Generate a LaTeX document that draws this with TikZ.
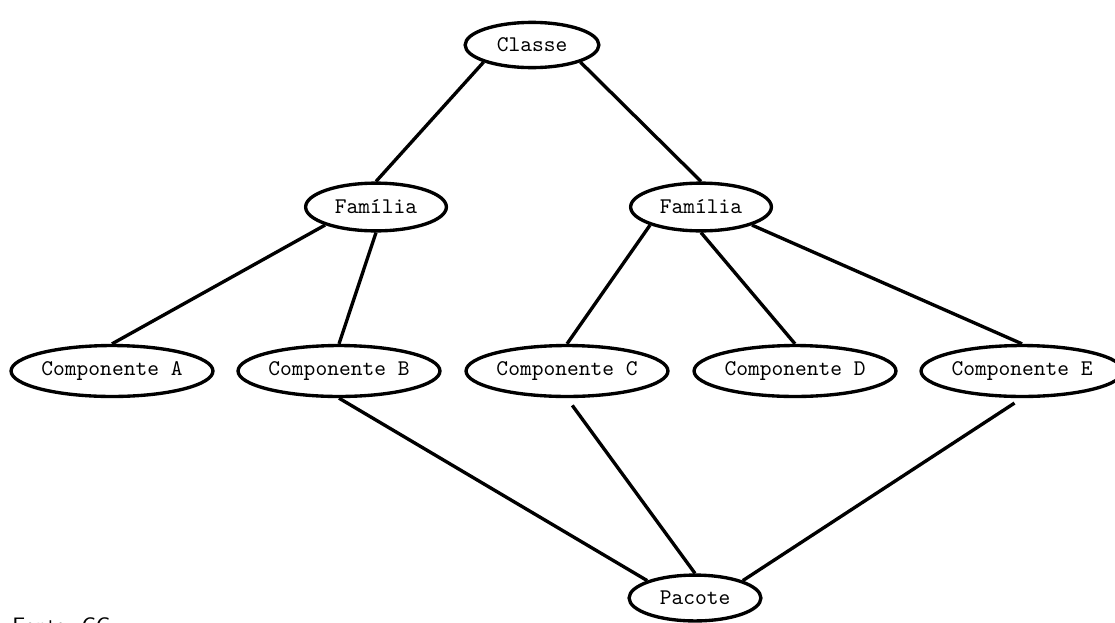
\documentclass[tikz,border=0pt]{standalone}
\usepackage{tikz}
\usetikzlibrary{shapes.geometric}

\begin{document}
\begin{tikzpicture}[x=0.0157cm, y=-0.0157cm,
    every node/.style={font=\ttfamily},
    item/.style={ellipse, draw, line width=1.5pt, inner sep=0pt},
    link/.style={line width=1.5pt}]
    % Frame
    \useasboundingbox (0,0) rectangle (1115,622);

    % Top level
    \node[item, minimum width=2.10cm, minimum height=0.71cm] (classe) at (532,45) {Classe};

    % Families
    \node[item, minimum width=2.21cm, minimum height=0.75cm] (famL) at (376,207) {Família};
    \node[item, minimum width=2.21cm, minimum height=0.75cm] (famR) at (701,207) {Família};

    % Components
    \foreach \nm/\lbl/\xpos in {compA/A/112, compB/B/339, compC/C/567, compD/D/795, compE/E/1022} {
        \node[item, minimum width=3.17cm, minimum height=0.80cm] (\nm) at (\xpos,371) {Componente \lbl};
    }

    % Package
    \node[item, minimum width=2.07cm, minimum height=0.72cm] (pacote) at (695,598) {Pacote};

    % Links
    \draw[link] (classe.south west) -- (famL.north);
    \draw[link] (classe.south east) -- (famR.north);
    \draw[link] (famL.south west) -- (compA.north);
    \draw[link] (famL.south) -- (compB.north);
    \draw[link] (famR.south west) -- (compC.north);
    \draw[link] (famR.south) -- (compD.north);
    \draw[link] (famR.south east) -- (compE.north);
    \draw[link] (compB.south) -- (pacote.north west);
    \draw[link, shorten <=4pt] (compC.south) -- (pacote.north);
    \draw[link, shorten <=4pt] (compE.south) -- (pacote.north east);

    % Source
    \node[font=\sffamily, anchor=base west, inner sep=0pt] (fonte) at (12,633) {Fonte: CC};
\end{tikzpicture}
\end{document}
